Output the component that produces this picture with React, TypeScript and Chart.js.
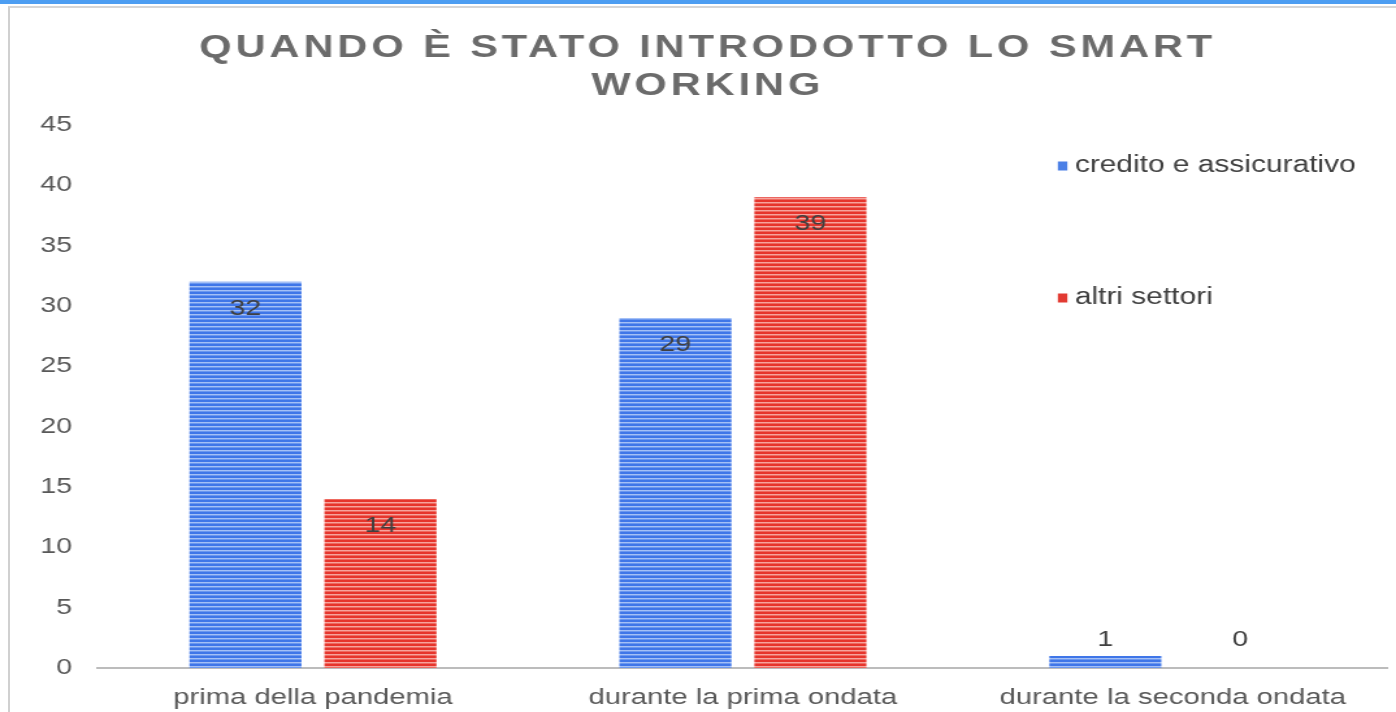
import React, { useEffect, useRef } from "react";
import { Chart, registerables } from "chart.js";

Chart.register(...registerables);

const categories = ["prima della pandemia", "durante la prima ondata", "durante la seconda ondata"];
const seriesNames = ["credito e assicurativo", "altri settori"];
const creditoValues = [32, 29, 1];
const altriValues = [14, 39, 0];
const yTicks = [0, 5, 10, 15, 20, 25, 30, 35, 40, 45];
const titleLines = ["QUANDO È STATO INTRODOTTO LO SMART", "WORKING"];

const FONT = "'Liberation Sans', Arial, sans-serif";
// the reference image is horizontally stretched; draw at a narrower size and stretch with CSS
const K = 1.3;
const VIEW_W = 1396;
const VIEW_H = 712;
const W = Math.round(VIEW_W / K);
const sx = (x: number) => x / K;

function stripePattern(ctx: CanvasRenderingContext2D, rows: string[]) {
  const c = document.createElement("canvas");
  c.width = 4;
  c.height = rows.length;
  const g = c.getContext("2d")!;
  rows.forEach((col, i) => {
    g.fillStyle = col;
    g.fillRect(0, i, 4, 1);
  });
  return ctx.createPattern(c, "repeat")!;
}

const legendSolid = ["#4a7fe6", "#e23a32"];

const labelPlugin = {
  id: "barLabels",
  afterDatasetsDraw(chart: any) {
    const ctx = chart.ctx;
    ctx.save();
    ctx.font = `22px ${FONT}`;
    ctx.fillStyle = "#404040";
    ctx.textAlign = "center";
    ctx.textBaseline = "middle";
    chart.data.datasets.forEach((ds: any, di: number) => {
      const meta = chart.getDatasetMeta(di);
      meta.data.forEach((bar: any, i: number) => {
        const v = ds.data[i];
        const y = Math.min(bar.y + 27, bar.base - 28);
        ctx.fillText(String(v), bar.x, y);
      });
    });
    ctx.restore();
  },
};

const legendPlugin = {
  id: "customLegend",
  afterDraw(chart: any) {
    const ctx = chart.ctx;
    const ys = [166, 298];
    ctx.save();
    ctx.font = `23px ${FONT}`;
    ctx.textBaseline = "middle";
    ctx.textAlign = "left";
    chart.data.datasets.forEach((ds: any, i: number) => {
      const y = ys[i];
      ctx.fillStyle = legendSolid[i];
      ctx.fillRect(sx(1058), y - 4.5, sx(9.5), 9);
      ctx.fillStyle = "#404040";
      ctx.fillText(ds.label, sx(1075), y);
    });
    ctx.restore();
  },
};

export default function App() {
  const ref = useRef<HTMLCanvasElement>(null);
  useEffect(() => {
    const canvas = ref.current!;
    const ctx = canvas.getContext("2d")!;
    const bluePat = stripePattern(ctx, ["#3f76e8", "#3f76e8", "#a4c0f6", "#6b97ef"]);
    const redPat = stripePattern(ctx, ["#e6352c", "#e6352c", "#f6a49e", "#ee6a60"]);
    const chart = new Chart(canvas, {
      type: "bar",
      data: {
        labels: categories,
        datasets: [
          { label: seriesNames[0], data: creditoValues, backgroundColor: bluePat as any, categoryPercentage: 0.628, barPercentage: 0.83 },
          { label: seriesNames[1], data: altriValues, backgroundColor: redPat as any, categoryPercentage: 0.628, barPercentage: 0.83 },
        ],
      },
      options: {
        responsive: false,
        animation: false,
        devicePixelRatio: 1,
        layout: { padding: { top: 29, right: W - sx(1388), left: 0, bottom: 0 } },
        plugins: {
          legend: { display: false },
          tooltip: { enabled: false },
          title: {
            display: true,
            text: titleLines,
            color: "#6b6b6b",
            font: { family: FONT, size: 32, weight: "bold", lineHeight: 1.2 },
            padding: { top: 0, bottom: 19 },
          },
        },
        scales: {
          x: {
            grid: { display: false, drawTicks: false },
            border: { display: true, color: "#bcbcbc", width: 2 },
            ticks: { color: "#595959", font: { family: FONT, size: 22.5 }, padding: 16 },
            afterFit(s: any) { s.height = 44; },
          },
          y: {
            min: 0,
            max: 45,
            afterBuildTicks(s: any) { s.ticks = yTicks.map((v) => ({ value: v })); },
            grid: { display: false, drawTicks: false },
            border: { display: false },
            ticks: { color: "#595959", font: { family: FONT, size: 22 }, padding: sx(98) - sx(72) },
            afterFit(s: any) { s.width = sx(98); },
          },
        },
      },
      plugins: [labelPlugin, legendPlugin],
    });
    const tb = (chart as any).titleBlock;
    if (tb) {
      const orig = tb.draw.bind(tb);
      tb.draw = () => {
        const c = chart.ctx as any;
        c.save();
        c.letterSpacing = "3px";
        c.translate(sx(710) - W / 2 + 1.5, 0);
        orig();
        c.restore();
      };
      chart.draw();
    }
    return () => chart.destroy();
  }, []);
  return (
    <div style={{ position: "fixed", left: 0, top: 0, width: VIEW_W, height: VIEW_H, background: "#fff", overflow: "hidden" }}>
      <div style={{ position: "absolute", left: 0, top: 0, width: VIEW_W, height: 4, background: "#4d9ef2" }} />
      <div style={{ position: "absolute", left: 8, top: 6, width: VIEW_W, height: 720, borderTop: "2px solid #d6d6d6", borderLeft: "2px solid #d0d0d0" }} />
      <canvas
        ref={ref}
        width={W}
        height={VIEW_H}
        style={{ position: "absolute", left: 0, top: 0, width: VIEW_W, height: VIEW_H }}
      />
    </div>
  );
}
